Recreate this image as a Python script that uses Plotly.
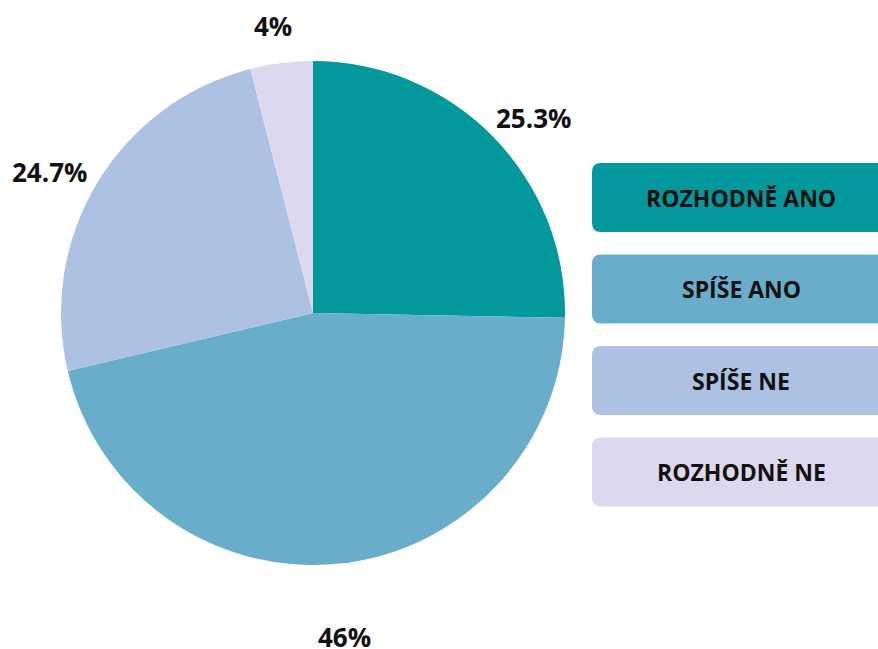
import math
import plotly.graph_objects as go

categories = ["ROZHODNĚ ANO", "SPÍŠE ANO", "SPÍŠE NE", "ROZHODNĚ NE"]
values = [25.3, 46, 24.7, 4]
value_labels = ["25.3%", "46%", "24.7%", "4%"]
colors = ["#03989c", "#68aeca", "#adc2e3", "#dcd9ef"]
label_radius = [1.167, 1.29, 1.187, 1.15]  # radial factor for outside labels
label_angle_nudge = [2.9, 0.5, -3.0, -0.8]  # degrees

W, H = 878, 649
CX, CY, R = 313, 313, 252

fig = go.Figure()
fig.add_trace(go.Pie(
    labels=categories, values=values, sort=False, direction="clockwise",
    rotation=0, marker=dict(colors=colors, line=dict(width=0)),
    textinfo="none", hoverinfo="label+percent", showlegend=False,
    domain=dict(x=[(CX - R) / W, (CX + R) / W], y=[1 - (CY + R) / H, 1 - (CY - R) / H]),
))

annotations = []
total = sum(values)
cum = 0
for v, lab, k, nd in zip(values, value_labels, label_radius, label_angle_nudge):
    mid = (cum + v / 2) / total * 2 * math.pi + math.radians(nd)
    cum += v
    px = CX + k * R * math.sin(mid)
    py = CY - k * R * math.cos(mid)
    annotations.append(dict(
        x=px / W, y=1 - py / H, xref="paper", yref="paper", text=lab, showarrow=False,
        font=dict(family="Open Sans", size=26, color="#111111", weight="bold"),
        xanchor="center", yanchor="middle"))

# custom legend boxes
shapes = []
box_x0, box_x1 = 592, 900
box_top0, box_h, box_pitch, rad = 163, 69, 91.5, 9


def rr_path(x0, y0, x1, y1, r):
    def p(x, y):
        return f"{x / W:.5f},{1 - y / H:.5f}"
    return (f"M{p(x0 + r, y0)} L{p(x1 - r, y0)} Q{p(x1, y0)} {p(x1, y0 + r)} "
            f"L{p(x1, y1 - r)} Q{p(x1, y1)} {p(x1 - r, y1)} L{p(x0 + r, y1)} "
            f"Q{p(x0, y1)} {p(x0, y1 - r)} L{p(x0, y0 + r)} Q{p(x0, y0)} {p(x0 + r, y0)} Z")


for i, (cat, col) in enumerate(zip(categories, colors)):
    y0 = box_top0 + i * box_pitch
    y1 = y0 + box_h
    shapes.append(dict(type="path", xref="paper", yref="paper",
                       path=rr_path(box_x0, y0, box_x1, y1, rad),
                       fillcolor=col, line=dict(width=0), layer="below"))
    annotations.append(dict(
        x=741 / W, y=1 - (y0 + box_h / 2) / H, xref="paper", yref="paper", text=cat,
        showarrow=False, font=dict(family="Open Sans", size=23, color="#111111", weight="bold"),
        xanchor="center", yanchor="middle"))

fig.update_layout(
    width=W, height=H, margin=dict(l=0, r=0, t=0, b=0),
    paper_bgcolor="white", plot_bgcolor="white",
    shapes=shapes, annotations=annotations,
)
fig.write_html("out.html", config={"displayModeBar": False},
               post_script="document.body.style.margin='0';document.body.style.overflow='hidden';")
